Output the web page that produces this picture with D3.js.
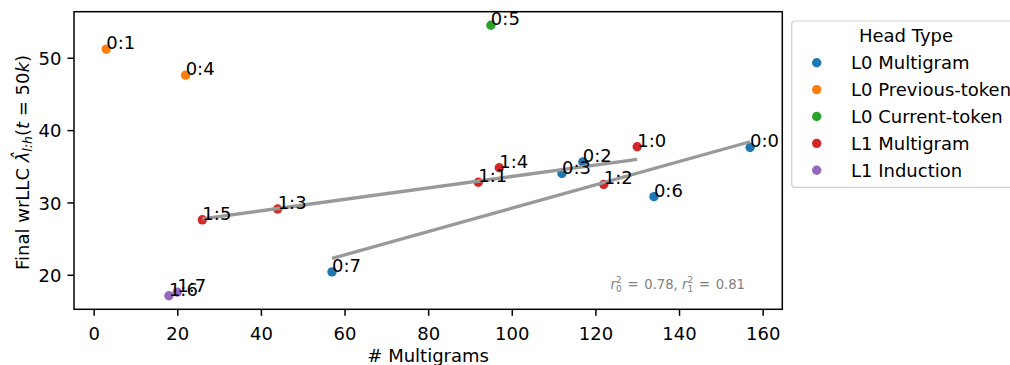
<!DOCTYPE html>
<html>
<head>
<meta charset="utf-8">
<script src="https://cdn.jsdelivr.net/npm/d3@7"></script>
<style>
  html, body { margin: 0; padding: 0; background: #fff; }
  svg { display: block; font-family: "DejaVu Sans", sans-serif; }
</style>
</head>
<body>
<svg id="chart" width="1010" height="365"></svg>
<script>
// Attention heads: label, number of multigrams, final wrLLC, head type
const headLabels = ["0:0","0:1","0:2","0:3","0:4","0:5","0:6","0:7",
                    "1:0","1:1","1:2","1:3","1:4","1:5","1:6","1:7"];
const multigrams = [157, 3, 117, 112, 22, 95, 134, 57,
                    130, 92, 122, 44, 97, 26, 18, 20];
const wrllc = [37.6, 51.2, 35.6, 34.0, 47.6, 54.5, 30.8, 20.4,
               37.7, 32.8, 32.5, 29.1, 34.8, 27.6, 17.1, 17.6];
const headTypes = ["L0 Multigram","L0 Previous-token","L0 Multigram","L0 Multigram",
                   "L0 Previous-token","L0 Current-token","L0 Multigram","L0 Multigram",
                   "L1 Multigram","L1 Multigram","L1 Multigram","L1 Multigram",
                   "L1 Multigram","L1 Multigram","L1 Induction","L1 Induction"];
const typeNames = ["L0 Multigram","L0 Previous-token","L0 Current-token","L1 Multigram","L1 Induction"];
const typeColors = ["#1f77b4","#ff7f0e","#2ca02c","#d62728","#9467bd"];
const fitGroups = ["L0 Multigram","L1 Multigram"];
const xTicks = [0, 20, 40, 60, 80, 100, 120, 140, 160];
const yTicks = [20, 30, 40, 50];

const heads = headLabels.map((h, i) => ({ label: h, x: multigrams[i], y: wrllc[i], type: headTypes[i] }));

const svg = d3.select("#chart");
const plot = { left: 74, right: 782.3, top: 11.7, bottom: 309.3 };

function padded(ext) {
  const m = (ext[1] - ext[0]) * 0.05;
  return [ext[0] - m, ext[1] + m];
}
const x = d3.scaleLinear().domain(padded(d3.extent(multigrams))).range([plot.left, plot.right]);
const y = d3.scaleLinear().domain(padded(d3.extent(wrllc))).range([plot.bottom, plot.top]);
const color = d3.scaleOrdinal().domain(typeNames).range(typeColors);

// Axes
const xAxis = svg.append("g").attr("transform", `translate(0,${plot.bottom})`)
  .call(d3.axisBottom(x).tickValues(xTicks).tickSize(6.5).tickPadding(7).tickSizeOuter(0));
const yAxis = svg.append("g").attr("transform", `translate(${plot.left},0)`)
  .call(d3.axisLeft(y).tickValues(yTicks).tickSize(6.5).tickPadding(6).tickSizeOuter(0));
[xAxis, yAxis].forEach(a => {
  a.select(".domain").remove();
  a.selectAll(".tick line").attr("stroke", "#000").attr("stroke-width", 1.5);
  a.selectAll(".tick text").attr("fill", "#000").attr("font-size", 18)
    .attr("font-family", "DejaVu Sans");
});
xAxis.selectAll(".tick text").attr("dy", null).attr("y", 30.7);
yAxis.selectAll(".tick text").attr("dy", null).attr("y", 6.6);

// Frame
svg.append("rect")
  .attr("x", plot.left).attr("y", plot.top)
  .attr("width", plot.right - plot.left).attr("height", plot.bottom - plot.top)
  .attr("fill", "none").attr("stroke", "#000").attr("stroke-width", 1.5);

// Scatter points
svg.append("g").selectAll("circle").data(heads).join("circle")
  .attr("cx", d => x(d.x)).attr("cy", d => y(d.y)).attr("r", 4.7)
  .attr("fill", d => color(d.type));

// Least-squares fits for the multigram groups
const fits = fitGroups.map(g => {
  const pts = heads.filter(d => d.type === g);
  const mx = d3.mean(pts, d => d.x), my = d3.mean(pts, d => d.y);
  const sxy = d3.sum(pts, d => (d.x - mx) * (d.y - my));
  const sxx = d3.sum(pts, d => (d.x - mx) ** 2);
  const syy = d3.sum(pts, d => (d.y - my) ** 2);
  const slope = sxy / sxx, intercept = my - slope * mx;
  const [x0, x1] = d3.extent(pts, d => d.x);
  return { x0, x1, slope, intercept, r2: (sxy * sxy) / (sxx * syy) };
});
svg.append("g").selectAll("line").data(fits).join("line")
  .attr("x1", f => x(f.x0)).attr("y1", f => y(f.intercept + f.slope * f.x0))
  .attr("x2", f => x(f.x1)).attr("y2", f => y(f.intercept + f.slope * f.x1))
  .attr("stroke", "#999999").attr("stroke-width", 3.3);

// Head labels
svg.append("g").selectAll("text").data(heads).join("text")
  .attr("x", d => x(d.x)).attr("y", d => y(d.y))
  .attr("font-size", 18).attr("fill", "#000")
  .text(d => d.label);

// r^2 annotation
const ann = svg.append("text").attr("x", 745).attr("y", 288.5)
  .attr("text-anchor", "end").attr("font-size", 13.2).attr("fill", "#808080");
fits.forEach((f, i) => {
  ann.append("tspan").attr("font-style", "italic").text("r");
  ann.append("tspan").attr("font-size", 9).attr("dy", -5.5).text("2");
  ann.append("tspan").attr("font-size", 9).attr("dx", -5.7).attr("dy", 9).text(String(i));
  ann.append("tspan").attr("dy", -3.5).attr("dx", 1.5).text("\u00a0=\u00a0");
  ann.append("tspan").attr("dx", 1.5)
    .text(f.r2.toFixed(2) + (i < fits.length - 1 ? ",\u00a0" : ""));
});

// Axis titles
svg.append("text").attr("x", (plot.left + plot.right) / 2).attr("y", 361.5)
  .attr("text-anchor", "middle").attr("font-size", 18).text("# Multigrams");

const yl = svg.append("text").attr("transform", "translate(28.5,270) rotate(-90)")
  .attr("font-size", 18).attr("text-anchor", "start");
yl.append("tspan").text("Final wrLLC ");
yl.append("tspan").attr("font-style", "italic").text("\u03bb\u0302");
yl.append("tspan").attr("font-style", "italic").attr("font-size", 12.5).attr("dy", 3.5).text("l:h");
yl.append("tspan").attr("dy", -3.5).text("(");
yl.append("tspan").attr("font-style", "italic").text("t");
yl.append("tspan").text(" = 50");
yl.append("tspan").attr("font-style", "italic").text("k");
yl.append("tspan").text(")");

// Legend
const lg = svg.append("g");
lg.append("rect").attr("x", 791.7).attr("y", 21).attr("width", 228).attr("height", 166.3)
  .attr("rx", 3).attr("fill", "#fff").attr("stroke", "#d0d0d0").attr("stroke-width", 1.2);
lg.append("text").attr("x", 906).attr("y", 42.3).attr("text-anchor", "middle")
  .attr("font-size", 18).text("Head Type");
const items = lg.selectAll("g.item").data(typeNames).join("g").attr("class", "item")
  .attr("transform", (d, i) => `translate(816.7,${62.7 + i * 26.9})`);
items.append("circle").attr("r", 4.7).attr("fill", d => color(d));
items.append("text").attr("x", 34.3).attr("y", 6.5).attr("font-size", 18).text(d => d);
</script>
</body>
</html>
